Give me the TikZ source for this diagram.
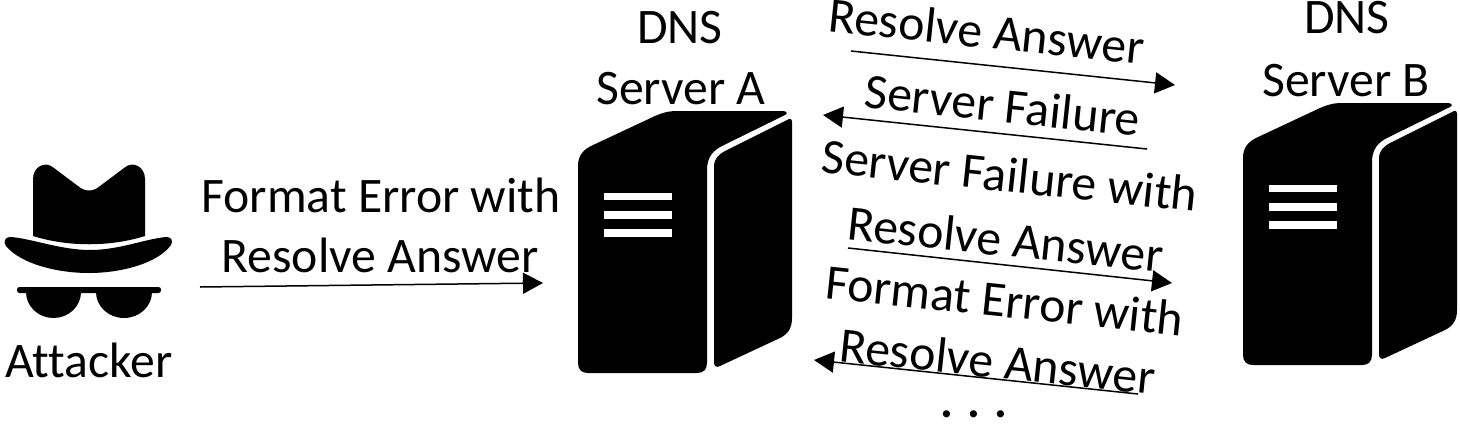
\documentclass[tikz,border=0pt]{standalone}
\usepackage{fontspec}
\setmainfont{Carlito}[Ligatures=NoCommon]
\usetikzlibrary{arrows.meta}
\tikzset{
  lbl/.style={anchor=base,inner sep=0pt,outer sep=0pt,font=\fontsize{49.7}{58}\selectfont,text=black},
  flow/.style={line width=1.5pt,black,-{Triangle[length=20pt,width=21pt]}},
  server/.pic={
    \fill[black] (578,363) -- (578,166) .. controls (578,156) and (583,150) .. (591,146)
      -- (655,116) .. controls (662,113) and (668,111) .. (677,111) -- (783,111)
      .. controls (787,111) and (788,114) .. (785,115) -- (724,145)
      .. controls (713,150) and (707,157) .. (707,170) -- (707,363)
      .. controls (707,370) and (703,373) .. (697,373) -- (588,373)
      .. controls (582,373) and (578,370) .. (578,363) -- cycle;
    \fill[black] (792,122) .. controls (792,119) and (790,118) .. (787,120)
      -- (725,151) .. controls (718,155) and (714,159) .. (714,167) -- (714,362)
      .. controls (714,366) and (716,368) .. (720,366) -- (780,338)
      .. controls (788,334) and (792,328) .. (792,318) -- cycle;
    \fill[white] (604,193) rectangle (672,200);
    \fill[white] (604,211) rectangle (672,219);
    \fill[white] (604,229) rectangle (672,237);
  }
}
\begin{document}
\begin{tikzpicture}[x=1pt,y=-1pt]
\useasboundingbox (0,0) rectangle (1460,429);
% attacker icon
\fill[black] (33,236) -- (33,179) .. controls (33,167) and (45,160) .. (54,168)
  -- (78,186) .. controls (85,192) and (93,192) .. (100,186) -- (124,168)
  .. controls (133,160) and (145,167) .. (145,179) -- (145,236)
  .. controls (110,247) and (68,247) .. (33,236) -- cycle;
\fill[black] (10,237) .. controls (30,238) and (60,250) .. (90,250)
  .. controls (120,250) and (148,238) .. (167,237)
  .. controls (172,237) and (173,242) .. (171,245)
  .. controls (158,263) and (122,273) .. (89,273)
  .. controls (55,273) and (20,263) .. (6,246)
  .. controls (3,242) and (5,237) .. (10,237) -- cycle;
\fill[black,rounded corners=2.5pt] (17,287) rectangle (161,293);
\fill[black] (26,292) arc[start angle=180,end angle=360,x radius=27.5,y radius=-26] -- cycle;
\fill[black] (96,292) arc[start angle=180,end angle=360,x radius=28,y radius=-26] -- cycle;
% servers
\pic (serverA) at (0,0) {server};
\pic (serverB) at (665,-8) {server};
% labels
\node[lbl] (attacker) at (89,377) {Attacker};
\node[lbl] (dnsA) at (680,43) {DNS};
\node[lbl] (nameA) at (681,104) {Server A};
\node[lbl] (dnsB) at (1347,33) {DNS};
\node[lbl] (nameB) at (1346,96) {Server B};
\node[lbl] (fmt1) at (381,212) {Format Error with};
\node[lbl] (res1) at (380,272) {Resolve Answer};
\node[lbl,rotate=-6] (res2) at (985,48) {Resolve Answer};
\node[lbl,rotate=-6] (fail1) at (1001,122) {Server Failure};
\node[lbl,rotate=-6] (fail2) at (1008,192) {Server Failure with};
\node[lbl,rotate=-6] (res3) at (1004,256) {Resolve Answer};
\node[lbl,rotate=-6] (fmt2) at (1003,317) {Format Error with};
\node[lbl,rotate=-6] (res4) at (996,378) {Resolve Answer};
\node[lbl,font=\fontsize{48}{58}\selectfont\bfseries] (dots) at (974,417) {. . .};
% arrow ends
\coordinate (a1s) at (200,287); \coordinate (a1e) at (543,283);
\coordinate (a2s) at (851,51);  \coordinate (a2e) at (1175,85);
\coordinate (a3s) at (1147,149);\coordinate (a3e) at (823,115);
\coordinate (a4s) at (848,248); \coordinate (a4e) at (1172,283);
\coordinate (a5s) at (1138,394);\coordinate (a5e) at (814,360);
\draw[flow] (a1s) -- (a1e);
\draw[flow] (a2s) -- (a2e);
\draw[flow] (a3s) -- (a3e);
\draw[flow] (a4s) -- (a4e);
\draw[flow] (a5s) -- (a5e);
\end{tikzpicture}
\end{document}
